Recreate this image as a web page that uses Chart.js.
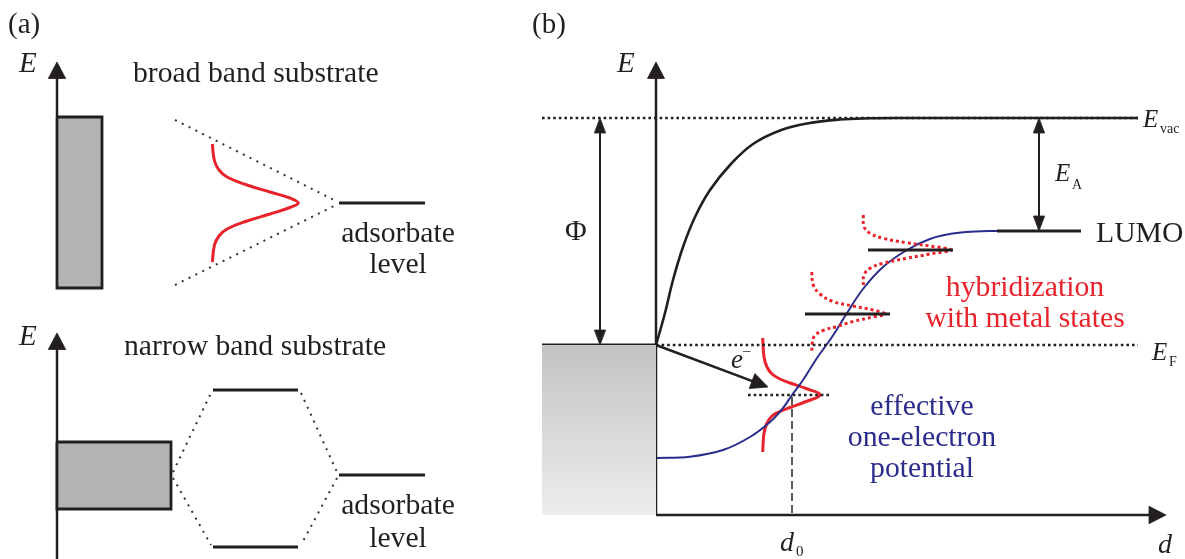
<!DOCTYPE html>
<html>
<head>
<meta charset="utf-8">
<script src="https://cdn.jsdelivr.net/npm/chart.js@4.4.1/dist/chart.umd.min.js"></script>
<style>
  html, body { margin: 0; padding: 0; background: #ffffff; overflow: hidden; }
  #wrap { position: relative; width: 1185px; height: 559px; }
</style>
</head>
<body>
<div id="wrap"><canvas id="diagram" width="1185" height="559"></canvas></div>
<script>
// Energy-level schematic of molecule/substrate coupling.
// All geometry is given in diagram units (x to the right, E/y downward on screen).

// ---------- panel (a), upper: broad band substrate ----------
const broadBandBox      = [[57,117],[102,117],[102,288],[57,288],[57,117]];
const broadAxisArrow    = [[57,117],[57,62]];
const broadUpperGuide   = [[175,120],[338,202]];
const broadLowerGuide   = [[175,285],[338,204]];
const broadAdsorbate    = [[339,203],[425,203]];
const broadResonance    = [[212.3,144],[214.5,161],[219,170],[227,177],[247,185],[270,192],[290,198],[298.3,203],
                           [290,207.5],[270,214],[247,221],[227,229],[219,236],[214.5,245],[212.3,262]];

// ---------- panel (a), lower: narrow band substrate ----------
const narrowBandBox     = [[57,442],[171,442],[171,509],[57,509],[57,442]];
const narrowAxisArrow   = [[57,560],[57,333]];
const narrowBonding     = [[213,547],[298,547]];
const narrowAntibonding = [[213,390],[298,390]];
const narrowAdsorbate   = [[339,475],[425,475]];
const narrowGuides      = [
  [[173,472],[211,393]], [[173,478],[211,545]],
  [[301,393],[337,472]], [[337,478],[301,545]]
];

// ---------- panel (b): image-potential picture ----------
const metalBlock        = [[542,345],[656,345],[656,515],[542,515],[542,345]];
const metalTop          = [[542,345],[656,345]];
const energyAxis        = [[656,515],[656,62]];
const distanceAxis      = [[656,515],[1166,515]];
const vacuumLevel       = [[542,118],[1138,118]];
const fermiLevel        = [[656,345],[1138,345]];
const vacuumPotential   = [[656,345],[665,313],[673,280],[683,247],[695,217],[710,190],[730,165],[753,144],
                           [780,130.5],[807,123.5],[840,119.5],[870,118.3],[900,118],[1138,118]];
const oneElectronPot    = [[656,458],[690,456.7],[723,450],[750,437],[770,422],[783,408],[792,395],[803,380],
                           [817,358],[832,337],[847,313],[863,289],[883,267],[907,250],[930,239],[953,233.5],
                           [975,231.5],[997,231]];
const lumoLevel         = [[997,231],[1081,231]];
const levelMid          = [[805,314],[890,314]];
const levelTop          = [[868,250],[953,250]];
const levelD0           = [[748,395],[832,395]];
const d0Marker          = [[792,397],[792,515]];
const workFunction      = [[600,118],[600,345]];
const affinity          = [[1039,118],[1039,231]];
const electronTransfer  = [[656,345],[768,387]];
const hybridLow         = [[762.7,338],[764,357],[767,367],[772,374],[780,379],[790,383],[806,388.5],[820,395],
                           [806,401.5],[790,407.5],[780,411.5],[772,416],[767,423],[764,433],[762.7,452]];
const hybridMid         = [[811.7,272],[813.3,285],[820,294],[833,301.5],[853,306],[873,310],[885,314],
                           [873,317],[853,321.5],[837,326.5],[823,330.5],[814.5,336],[812,345],[812,352]];
const hybridTop         = [[863.3,215],[864,226.7],[870,233.3],[883,238.3],[906.7,242.7],[930,246],[951,250],
                           [930,254],[906.7,258.3],[883,263.3],[870,268.3],[864,275],[863.3,285]];

// ---------- text ----------
const SERIF = '"Liberation Serif", "Times New Roman", "DejaVu Serif", serif';
const INK = '#231f20';
const RED = '#e8232b';
const NAVY = '#2b2d8c';
const GRAY_BOX = '#b3b3b3';

const labels = [
  { text: '(a)', at: [8,33], font: `29px ${SERIF}` },
  { text: 'E', at: [19,72], font: `italic 29px ${SERIF}` },
  { text: 'broad band substrate', at: [133,82], font: `29.7px ${SERIF}` },
  { text: 'adsorbate', at: [398,242], font: `29.7px ${SERIF}`, align: 'center' },
  { text: 'level', at: [398,273], font: `29.7px ${SERIF}`, align: 'center' },
  { text: 'E', at: [19,345], font: `italic 29px ${SERIF}` },
  { text: 'narrow band substrate', at: [124,355], font: `29.7px ${SERIF}` },
  { text: 'adsorbate', at: [398,514], font: `29.7px ${SERIF}`, align: 'center' },
  { text: 'level', at: [398,547], font: `29.7px ${SERIF}`, align: 'center' },

  { text: '(b)', at: [532,33], font: `29px ${SERIF}` },
  { text: 'E', at: [617,72], font: `italic 29px ${SERIF}` },
  { text: '\u03A6', at: [565,240], font: `29.7px ${SERIF}` },
  { text: 'E', at: [1055,181], font: `italic 25px ${SERIF}` },
  { text: 'A', at: [1072,189], font: `14px ${SERIF}` },
  { text: 'E', at: [1143,127], font: `italic 25px ${SERIF}` },
  { text: 'vac', at: [1160,133], font: `14px ${SERIF}` },
  { text: 'LUMO', at: [1096,242], font: `29.7px ${SERIF}` },
  { text: 'E', at: [1152,360], font: `italic 25px ${SERIF}` },
  { text: 'F', at: [1169,366], font: `14px ${SERIF}` },
  { text: 'hybridization', at: [1025,296], font: `29.7px ${SERIF}`, color: RED, align: 'center' },
  { text: 'with metal states', at: [1025,327], font: `29.7px ${SERIF}`, color: RED, align: 'center' },
  { text: 'effective', at: [922,415], font: `29.7px ${SERIF}`, color: NAVY, align: 'center' },
  { text: 'one-electron', at: [922,446], font: `29.7px ${SERIF}`, color: NAVY, align: 'center' },
  { text: 'potential', at: [922,477], font: `29.7px ${SERIF}`, color: NAVY, align: 'center' },
  { text: 'e', at: [731,368], font: `italic 27px ${SERIF}` },
  { text: '\u2013', at: [743,355], font: `15px ${SERIF}` },
  { text: 'd', at: [780,551], font: `italic 28px ${SERIF}` },
  { text: '0', at: [796,556], font: `15px ${SERIF}` },
  { text: 'd', at: [1158,553], font: `italic 28px ${SERIF}` }
];

// ---------- dataset helpers ----------
const asPoints = pts => pts.map(([x, y]) => ({ x, y }));

function line(pts, style) {
  return Object.assign({
    data: asPoints(pts), showLine: true, pointRadius: 0, pointHoverRadius: 0,
    borderColor: INK, borderWidth: 2.5, borderCapStyle: 'butt', borderJoinStyle: 'miter',
    backgroundColor: 'rgba(0,0,0,0)', fill: false, tension: 0, clip: false
  }, style || {});
}

// filled triangle at the tip end of a segment
function headShape(tip, tail, len, half) {
  const dx = tip[0] - tail[0], dy = tip[1] - tail[1];
  const L = Math.hypot(dx, dy), ux = dx / L, uy = dy / L;
  const bx = tip[0] - ux * len, by = tip[1] - uy * len;
  return [[tip[0], tip[1]], [bx - uy * half, by + ux * half], [bx + uy * half, by - ux * half], [tip[0], tip[1]]];
}
function head(tip, tail, len, half) {
  return line(headShape(tip, tail, len, half), { fill: 'shape', backgroundColor: INK, borderWidth: 0.8 });
}
// shaft shortened so the stroke does not poke out of the head
function shaft(a, b, trimA, trimB, style) {
  const dx = b[0] - a[0], dy = b[1] - a[1], L = Math.hypot(dx, dy), ux = dx / L, uy = dy / L;
  return line([[a[0] + ux * trimA, a[1] + uy * trimA], [b[0] - ux * trimB, b[1] - uy * trimB]], style);
}
function singleArrow(seg, len, half, style) {
  return [shaft(seg[0], seg[1], 0, len - 1, style), head(seg[1], seg[0], len, half)];
}
function doubleArrow(seg, len, half, style) {
  return [shaft(seg[0], seg[1], len - 1, len - 1, style), head(seg[0], seg[1], len, half), head(seg[1], seg[0], len, half)];
}

const metalGradient = ctx => {
  const chart = ctx.chart;
  if (!chart.chartArea) return '#d6d6d6';
  const y = chart.scales.y;
  const g = chart.ctx.createLinearGradient(0, y.getPixelForValue(345), 0, y.getPixelForValue(515));
  g.addColorStop(0, '#c3c3c3');
  g.addColorStop(1, '#ededed');
  return g;
};

const guideDots = { borderColor: '#333333', borderWidth: 2, borderDash: [2, 5.6], borderCapStyle: 'butt' };
const levelDots = { borderColor: INK, borderWidth: 2.5, borderDash: [2.6, 3], borderCapStyle: 'butt' };
const redDots   = { borderColor: RED, borderWidth: 3, borderDash: [3, 3], tension: 0.4 };

const datasets = [
  // panel (a) upper
  line(broadBandBox, { fill: 'shape', backgroundColor: GRAY_BOX, borderWidth: 2.8 }),
  ...singleArrow(broadAxisArrow, 16.5, 8.7),
  line(broadUpperGuide, guideDots),
  line(broadLowerGuide, guideDots),
  line(broadAdsorbate, { borderWidth: 3 }),
  line(broadResonance, { borderColor: RED, borderWidth: 3, tension: 0.4, borderCapStyle: 'butt' }),

  // panel (a) lower
  line(narrowBandBox, { fill: 'shape', backgroundColor: GRAY_BOX, borderWidth: 2.8 }),
  ...singleArrow(narrowAxisArrow, 16.5, 8.7),
  ...narrowGuides.map(g => line(g, guideDots)),
  line(narrowBonding, { borderWidth: 3 }),
  line(narrowAntibonding, { borderWidth: 3 }),
  line(narrowAdsorbate, { borderWidth: 3 }),

  // panel (b)
  line(metalBlock, { fill: 'shape', backgroundColor: metalGradient, borderWidth: 0 }),
  line(vacuumLevel, levelDots),
  line(fermiLevel, levelDots),
  line(levelD0, levelDots),
  line(d0Marker, { borderColor: '#333333', borderWidth: 1.6, borderDash: [8, 4] }),
  line(metalTop, { borderWidth: 3 }),
  ...singleArrow(energyAxis, 16.5, 8.5),
  ...singleArrow(distanceAxis, 17, 8.7),
  line(vacuumPotential, { borderWidth: 2.6, tension: 0.4 }),
  ...doubleArrow(workFunction, 15, 5.6, { borderWidth: 2 }),
  ...doubleArrow(affinity, 15, 5.6, { borderWidth: 2 }),
  ...singleArrow(electronTransfer, 17, 8, { borderWidth: 2.5 }),
  line(levelMid, { borderWidth: 3 }),
  line(levelTop, { borderWidth: 3 }),
  line(lumoLevel, { borderWidth: 3 }),
  line(hybridMid, redDots),
  line(hybridTop, redDots),
  line(oneElectronPot, { borderColor: NAVY, borderWidth: 2, tension: 0.4 }),
  line(hybridLow, { borderColor: RED, borderWidth: 3, tension: 0.4 })
];

const labelPlugin = {
  id: 'diagramLabels',
  afterDatasetsDraw(chart) {
    const { ctx, scales: { x, y } } = chart;
    ctx.save();
    ctx.textBaseline = 'alphabetic';
    for (const l of labels) {
      ctx.font = l.font;
      ctx.fillStyle = l.color || INK;
      ctx.textAlign = l.align || 'left';
      ctx.fillText(l.text, x.getPixelForValue(l.at[0]), y.getPixelForValue(l.at[1]));
    }
    ctx.restore();
  }
};

function build() {
  new Chart(document.getElementById('diagram'), {
    type: 'scatter',
    data: { datasets },
    options: {
      responsive: false,
      animation: false,
      events: [],
      layout: { padding: 0 },
      scales: {
        x: { type: 'linear', min: 0, max: 1185, display: false },
        y: { type: 'linear', min: 0, max: 559, reverse: true, display: false }
      },
      plugins: { legend: { display: false }, tooltip: { enabled: false } }
    },
    plugins: [labelPlugin]
  });
}

const fontLoads = [
  `29px ${SERIF}`, `italic 29px ${SERIF}`
].map(f => document.fonts ? document.fonts.load(f).catch(() => null) : null);
Promise.all(fontLoads).then(build, build);
</script>
</body>
</html>
